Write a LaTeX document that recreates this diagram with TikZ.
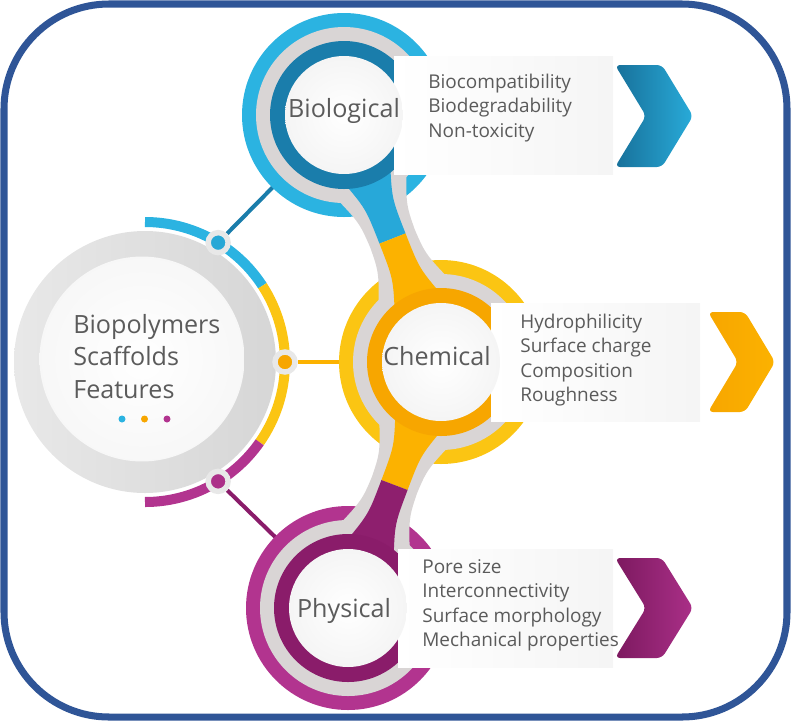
\documentclass[tikz,border=0pt]{standalone}
\usepackage{fontspec}
\setmainfont{Open Sans}
\usetikzlibrary{calc,backgrounds}

\definecolor{frameblue}{HTML}{2F5597}
\definecolor{textgray}{HTML}{5B5B5B}
\definecolor{ringgray}{HTML}{D9D5D5}
\definecolor{biolight}{HTML}{2BB3E1}
\definecolor{biodark}{HTML}{1A7DAB}
\definecolor{biostem}{HTML}{27A8D9}
\definecolor{chemlight}{HTML}{FBC513}
\definecolor{chemdark}{HTML}{F7A600}
\definecolor{chemstem}{HTML}{FCB200}
\definecolor{physlight}{HTML}{B2348F}
\definecolor{physdark}{HTML}{8A1C6A}
\definecolor{physstem}{HTML}{8E1F6E}

\tikzset{
  big label/.style={font=\fontsize{14.3}{17}\selectfont, text=textgray, inner sep=0pt},
  feature/.style={font=\fontsize{10.8}{13}\selectfont, text=textgray, inner sep=0pt, anchor=base west},
  disc/.style={circle, inner sep=0pt, minimum size=2.36cm, inner color=white, outer color=black!4},
  dot/.style={circle, inner sep=0pt, minimum size=0.4cm, draw=black!9, line width=3.1pt, fill=#1},
  link/.style={line width=2.3pt},
  banner/.style={left color=white, right color=black!4},
}

\begin{document}
\begin{tikzpicture}[x=0.02cm, y=-0.02cm]
  \useasboundingbox (0,0) rectangle (791,721);

  % centres of the four circles
  \coordinate (main) at (145,362);
  \coordinate (bio-c) at (344,115);
  \coordinate (chem-c) at (441,362);
  \coordinate (phys-c) at (348,608);

  % central circle with its three-colour arc
  \draw[line width=5.7pt, biolight] ($(main)+(-90:140)$) arc[start angle=-90, end angle=-33, radius=140];
  \draw[line width=5.7pt, chemlight] ($(main)+(-33:140)$) arc[start angle=-33, end angle=35, radius=140];
  \draw[line width=5.7pt, physlight] ($(main)+(35:140)$) arc[start angle=35, end angle=90, radius=140];
  \shade[left color=black!9, right color=black!16] (main) circle[radius=131];
  \node[disc, minimum size=4.1cm, outer color=black!3] (main-disc) at (142,359) {};
  \foreach \t [count=\i] in {Biopolymers, Scaffolds, Features}
    \node[big label, anchor=base west] (title-\i) at (73, {333+32.5*(\i-1)}) {\t};
  \foreach \col [count=\i] in {biolight, chemdark, physlight}
    \fill[\col] ({122+22.5*(\i-1)}, 419) circle[radius=3.5];

  % outer and grey rings of the three pins
  \foreach \c/\col in {bio-c/biolight, chem-c/chemlight, phys-c/physlight} {
    \fill[\col] (\c) circle[radius=102];
    \fill[ringgray] (\c) circle[radius=88];
  }

  % stems between the pins
  \begin{scope}[shift={(bio-c)}, rotate=-68.56]
    \fill[ringgray] (60,44) .. controls (105,25) .. (132.7,24) .. controls (160.4,25) .. (205.4,44)
      -- (205.4,-44) .. controls (160.4,-25) .. (132.7,-24) .. controls (105,-25) .. (60,-44) -- cycle;
    \fill[biostem] (60,26) .. controls (95,14) .. (132.7,14) -- (132.7,-14) .. controls (95,-14) .. (60,-26) -- cycle;
    \fill[chemstem] (205.4,26) .. controls (170.4,14) .. (132.7,14) -- (132.7,-14) .. controls (170.4,-14) .. (205.4,-26) -- cycle;
  \end{scope}
  \begin{scope}[shift={(chem-c)}, rotate=-110.71]
    \fill[ringgray] (60,44) .. controls (105,25) .. (131.5,24) .. controls (158,25) .. (203,44)
      -- (203,-44) .. controls (158,-25) .. (131.5,-24) .. controls (105,-25) .. (60,-44) -- cycle;
    \fill[chemstem] (60,26) .. controls (95,14) .. (131.5,14) -- (131.5,-14) .. controls (95,-14) .. (60,-26) -- cycle;
    \fill[physstem] (203,26) .. controls (168,14) .. (131.5,14) -- (131.5,-14) .. controls (168,-14) .. (203,-26) -- cycle;
  \end{scope}

  % inner rings
  \foreach \c/\col in {bio-c/biodark, chem-c/chemdark, phys-c/physdark}
    \fill[\col] (\c) circle[radius=74];

  % banners and chevrons
  \shade[banner] (394,56) rectangle (613,174);
  \shade[banner] (491,303) rectangle (700,421);
  \shade[banner] (398,549) rectangle (613,667);
  \shade[left color=biodark!90!black, right color=biolight!85!biodark, rounded corners=3pt]
    (615,65) -- (662,65) -- (693,116) -- (662,167) -- (615,167) -- (646,116) -- cycle;
  \shade[left color=chemdark, right color=chemstem, rounded corners=3pt]
    (708,312) -- (745,312) -- (775,362) -- (745,412) -- (708,412) -- (738,362) -- cycle;
  \shade[left color=physdark!90!black, right color=physlight!80!physdark, rounded corners=3pt]
    (615,558) -- (662,558) -- (693,608) -- (662,658) -- (615,658) -- (646,608) -- cycle;

  % white discs with their names
  \node[disc] (bio) at (bio-c) {};
  \node[disc] (chem) at (chem-c) {};
  \node[disc] (phys) at (phys-c) {};
  \node[big label, anchor=base] (bio-name) at (344,117) {Biological};
  \node[big label, anchor=base] (chem-name) at (437,365) {Chemical};
  \node[big label, anchor=base] (phys-name) at (344,617) {Physical};

  % feature lists
  \foreach \t [count=\i] in {Biocompatibility, Biodegradability, Non-toxicity}
    \node[feature] (bio-\i) at (428, {88+24.6*(\i-1)}) {\t};
  \foreach \t [count=\i] in {Hydrophilicity, Surface charge, Composition, Roughness}
    \node[feature] (chem-\i) at (520, {328+24.6*(\i-1)}) {\t};
  \foreach \t [count=\i] in {Pore size, Interconnectivity, Surface morphology, Mechanical properties}
    \node[feature] (phys-\i) at (422, {573+24.6*(\i-1)}) {\t};

  % dots on the arc
  \node[dot=biolight!80!biodark] (dot-bio) at ($(main)+(-58.5:140)$) {};
  \node[dot=chemdark] (dot-chem) at ($(main)+(0:140)$) {};
  \node[dot=physlight!85!physdark] (dot-phys) at ($(main)+(58.5:140)$) {};

  % connectors, behind the circles
  \begin{scope}[on background layer]
    \draw[link, biodark] (dot-bio) -- (bio);
    \draw[link, chemstem] (dot-chem) -- (chem);
    \draw[link, physdark] (dot-phys) -- (phys);
  \end{scope}

  % frame
  \draw[frameblue, line width=4pt, rounded corners=2.1cm] (4,4) rectangle (787,717);
\end{tikzpicture}
\end{document}
